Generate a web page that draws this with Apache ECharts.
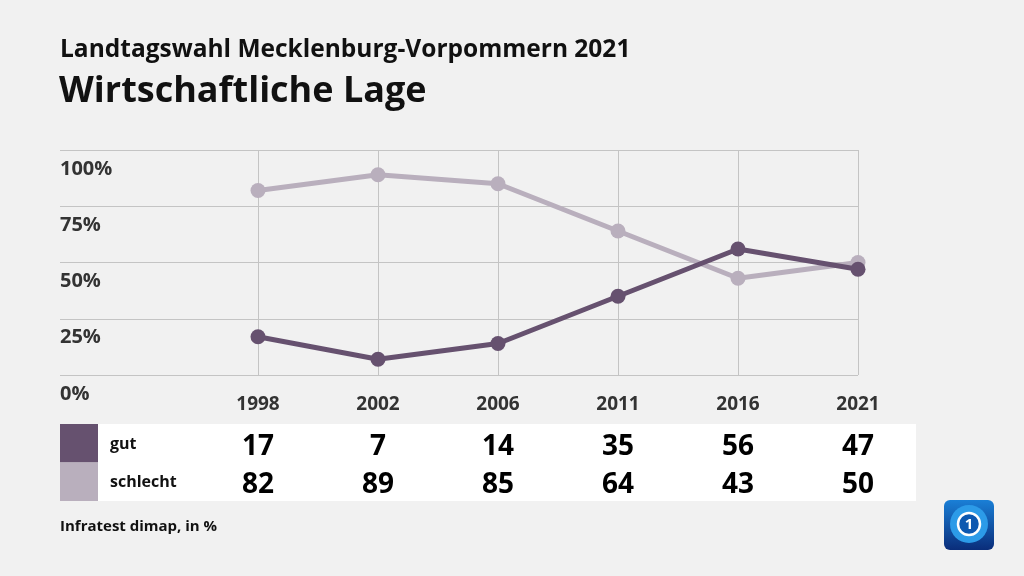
<!DOCTYPE html>
<html>
<head>
<meta charset="utf-8">
<script src="https://cdn.jsdelivr.net/npm/echarts@6/dist/echarts.min.js"></script>
<style>
  html, body { margin: 0; padding: 0; background: #f1f1f1 }
  #chart { width: 1024px; height: 576px }
</style>
</head>
<body>
<div id="chart"></div>
<script>
const years = ['1998', '2002', '2006', '2011', '2016', '2021']
const gut = [17, 7, 14, 35, 56, 47]
const schlecht = [82, 89, 85, 64, 43, 50]
const yTicks = [0, 25, 50, 75, 100]

const FONT = '"Open Sans", "Noto Sans", sans-serif'
const colGut = '#66516f'
const colSchlecht = '#b9afbd'

const chart = echarts.init(document.getElementById('chart'))

const gTop = 150, gBottom = 201, gRight = 166

chart.setOption({
  backgroundColor: '#f1f1f1',
  animation: false,
  textStyle: { fontFamily: FONT },
  grid: [
    { left: 60, right: gRight, top: gTop, bottom: gBottom },
    { left: 258, right: gRight, top: gTop, bottom: gBottom }
  ],
  xAxis: [
    { gridIndex: 0, type: 'category', data: years, show: false },
    {
      gridIndex: 1, type: 'category', data: years, boundaryGap: false,
      axisLine: { show: false }, axisTick: { show: false },
      axisLabel: { margin: 20, fontSize: 19, fontWeight: 'bold', color: '#333', fontFamily: FONT },
      splitLine: { show: true, lineStyle: { color: '#c4c4c4', width: 1 } }
    }
  ],
  yAxis: [
    {
      gridIndex: 0, type: 'value', min: 0, max: 100, interval: 25,
      axisLine: { show: false }, axisTick: { show: false },
      splitLine: { lineStyle: { color: '#c4c4c4', width: 1 } },
      axisLabel: {
        inside: true, margin: 0, align: 'left', verticalAlign: 'top', padding: [9, 0, 0, 0],
        fontSize: 20, fontWeight: 'bold', color: '#333', fontFamily: FONT,
        formatter: v => yTicks.includes(v) ? v + '%' : ''
      }
    },
    { gridIndex: 1, type: 'value', min: 0, max: 100, interval: 25, show: false }
  ],
  series: [
    {
      name: 'gut', type: 'line', xAxisIndex: 1, yAxisIndex: 1, data: gut,
      symbol: 'circle', symbolSize: 15, lineStyle: { width: 5, color: colGut },
      itemStyle: { color: colGut }, z: 3
    },
    {
      name: 'schlecht', type: 'line', xAxisIndex: 1, yAxisIndex: 1, data: schlecht,
      symbol: 'circle', symbolSize: 15, lineStyle: { width: 5, color: colSchlecht },
      itemStyle: { color: colSchlecht }, z: 2
    }
  ]
})

// table + titles + logo
const rows = [
  { name: 'gut', values: gut, color: colGut },
  { name: 'schlecht', values: schlecht, color: colSchlecht }
]
const graphics = [
  { type: 'text', left: 60, top: 38, style: { text: 'Landtagswahl Mecklenburg-Vorpommern 2021', font: 'bold 24.5px ' + FONT, fill: '#111' } },
  { type: 'text', left: 59, top: 74, style: { text: 'Wirtschaftliche Lage', font: 'bold 36px ' + FONT, fill: '#111' } },
  { type: 'rect', shape: { x: 98, y: 424, width: 818, height: 77 }, style: { fill: '#fff' } },
  { type: 'text', left: 60, top: 519, style: { text: 'Infratest dimap, in %', font: 'bold 15px ' + FONT, fill: '#111' } }
]
rows.forEach((r, i) => {
  const y0 = 424 + i * 38.5
  graphics.push({ type: 'rect', shape: { x: 60, y: y0, width: 38, height: 38.5 }, style: { fill: r.color } })
  graphics.push({ type: 'text', x: 110, y: y0 + 20, style: { text: r.name, font: 'bold 16px ' + FONT, fill: '#111', textVerticalAlign: 'middle' } })
  r.values.forEach((v, j) => {
    const px = chart.convertToPixel({ xAxisIndex: 1 }, j)
    graphics.push({ type: 'text', x: px, y: y0 + 23, style: { text: String(v), font: 'bold 28px ' + FONT, fill: '#000', textAlign: 'center', textVerticalAlign: 'middle' } })
  })
})
// logo
graphics.push({
  type: 'rect', shape: { x: 944, y: 500, width: 50, height: 50, r: 6 },
  style: { fill: new echarts.graphic.LinearGradient(0, 0, 0, 1, [{ offset: 0, color: '#1a7fd6' }, { offset: 1, color: '#0a2d7a' }]) }
})
graphics.push({ type: 'circle', shape: { cx: 969, cy: 524, r: 19 }, style: { fill: '#2c9be8' } })
graphics.push({ type: 'circle', shape: { cx: 969, cy: 524, r: 11 }, style: { fill: '#0d58b0', stroke: '#fff', lineWidth: 2.5 } })
graphics.push({ type: 'text', x: 969, y: 525, style: { text: '1', font: 'bold 15px ' + FONT, fill: '#fff', textAlign: 'center', textVerticalAlign: 'middle' } })

chart.setOption({ graphic: graphics })
</script>
</body>
</html>
